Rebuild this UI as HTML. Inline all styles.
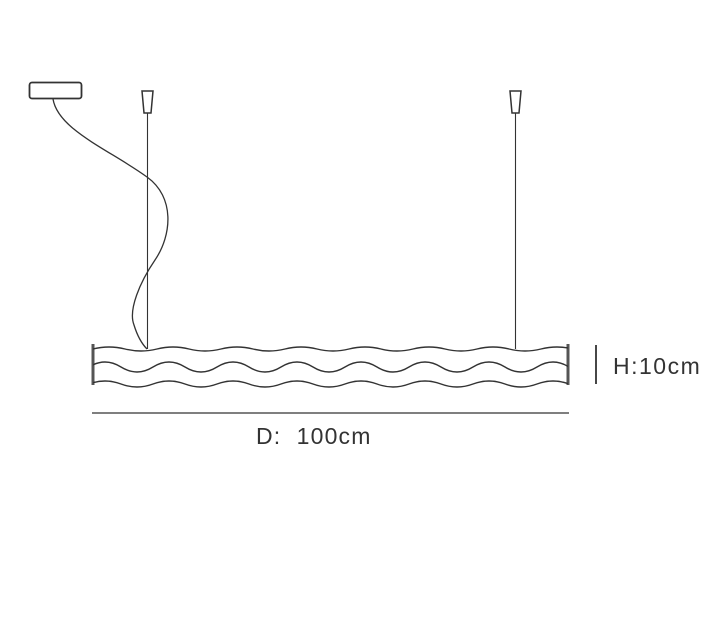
<!DOCTYPE html>
<html><head><style>
html,body{margin:0;padding:0;background:#fff;}
svg{display:block;}
text{font-family:"Liberation Sans",sans-serif;fill:#333;}
</style></head><body>
<svg width="724" height="644" viewBox="0 0 724 644" xmlns="http://www.w3.org/2000/svg">
<defs><clipPath id="c"><rect x="93" y="330" width="475" height="70"/></clipPath></defs>
<g fill="none" stroke="#333">
<rect x="29.5" y="82.5" width="52" height="16" rx="2.5" stroke-width="1.8"/>
<path d="M53,99 C58,130 110,150 147,177 C175,197 172,235 155,260 C140,282 128,310 134,325 C138,338 143,345 147,349" stroke-width="1.3"/>
<path d="M142,91 L153,91 L151,113 L144,113 Z" stroke-width="1.5"/>
<path d="M510,91 L521,91 L519,113 L512,113 Z" stroke-width="1.5"/>
<line x1="147.5" y1="113" x2="147.5" y2="349" stroke-width="1.1"/>
<line x1="515.5" y1="113" x2="515.5" y2="349" stroke-width="1.1"/>
<line x1="93" y1="344" x2="93" y2="385" stroke-width="3" stroke="#555"/>
<line x1="568" y1="344" x2="568" y2="385" stroke-width="3" stroke="#555"/>
<g clip-path="url(#c)" stroke-width="1.4">
<path d="M93,349 Q109,345 125,349 T157,349 T189,349 T221,349 T253,349 T285,349 T317,349 T349,349 T381,349 T413,349 T445,349 T477,349 T509,349 T541,349 T573,349"/>
<path d="M89,367 Q105,357 121,367 T153,367 T185,367 T217,367 T249,367 T281,367 T313,367 T345,367 T377,367 T409,367 T441,367 T473,367 T505,367 T537,367 T569,367"/>
<path d="M89,384 Q105,378 121,384 T153,384 T185,384 T217,384 T249,384 T281,384 T313,384 T345,384 T377,384 T409,384 T441,384 T473,384 T505,384 T537,384 T569,384"/>
</g>
<line x1="92" y1="413" x2="569" y2="413" stroke-width="1.3"/>
<line x1="596" y1="345" x2="596" y2="384" stroke-width="1.8"/>
</g>
<text x="613" y="374" font-size="23" letter-spacing="1.5">H:10cm</text>
<text x="256" y="444" font-size="23" letter-spacing="1.2">D:&#160; 100cm</text>
</svg>
</body></html>
